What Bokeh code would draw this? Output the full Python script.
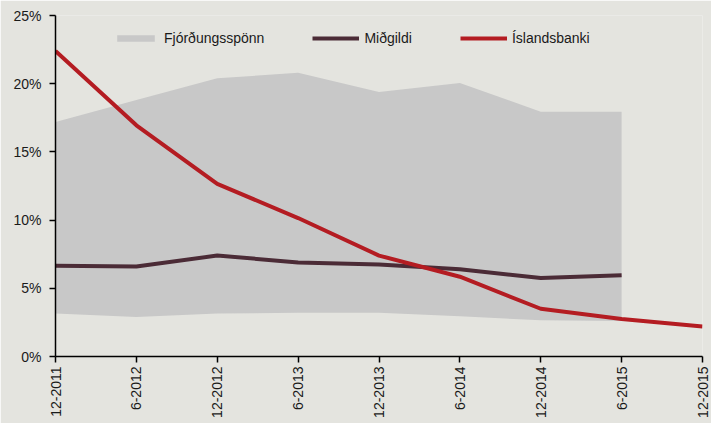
import math
from bokeh.plotting import figure
from bokeh.models import Range1d, FixedTicker, Legend, LegendItem
from bokeh.embed import file_html
from bokeh.resources import INLINE

# --- data -------------------------------------------------------------
periods = ["12-2011", "6-2012", "12-2012", "6-2013", "12-2013",
           "6-2014", "12-2014", "6-2015", "12-2015"]
islandsbanki = [22.4, 16.95, 12.65, 10.15, 7.4, 5.85, 3.5, 2.75, 2.2]
midgildi = [6.65, 6.6, 7.4, 6.9, 6.75, 6.4, 5.75, 5.95]
fjordungur_efri = [17.2, 18.8, 20.4, 20.8, 19.4, 20.05, 17.95, 17.95]
fjordungur_nedri = [3.15, 2.9, 3.15, 3.2, 3.2, 2.95, 2.65, 2.6]
y_ticks = [0, 5, 10, 15, 20, 25]
y_tick_labels = ["0%", "5%", "10%", "15%", "20%", "25%"]

# --- styles -----------------------------------------------------------
BG = "#E4E4DF"
BAND = "#C8C8C8"
MED = "#4B2B36"
RED = "#B41C22"
FONT = "Liberation Sans"

x_all = list(range(len(periods)))
x_band = x_all[:len(midgildi)]

p = figure(width=711, height=423, output_backend="svg", toolbar_location=None,
           x_range=Range1d(0, len(periods) - 1), y_range=Range1d(0, 25),
           min_border_left=55, min_border_right=9, min_border_top=15,
           min_border_bottom=67)
p.background_fill_color = BG
p.border_fill_color = BG
p.outline_line_color = None
p.xgrid.visible = False
p.ygrid.visible = False

band = p.varea(x=x_band, y1=fjordungur_nedri, y2=fjordungur_efri,
               fill_color=BAND)
med = p.line(x=x_band, y=midgildi, line_color=MED, line_width=4)
red = p.line(x=x_all, y=islandsbanki, line_color=RED, line_width=4)

# axes
p.xaxis.ticker = FixedTicker(ticks=x_all)
p.xaxis.major_label_overrides = {i: s for i, s in enumerate(periods)}
p.xaxis.major_label_orientation = math.pi / 2
p.yaxis.ticker = FixedTicker(ticks=y_ticks)
p.yaxis.major_label_overrides = {t: s for t, s in zip(y_ticks, y_tick_labels)}
for ax in (p.xaxis[0], p.yaxis[0]):
    ax.axis_line_color = "#000000"
    ax.axis_line_width = 1.5
    ax.major_tick_line_color = "#000000"
    ax.major_tick_line_width = 1.5
    ax.major_tick_out = 6
    ax.major_tick_in = 0
    ax.minor_tick_line_color = None
    ax.major_label_text_font = FONT
    ax.major_label_text_font_size = "14px"
    ax.major_label_text_color = "#1a1a1a"
p.xaxis.major_label_standoff = 4
p.yaxis.major_label_standoff = 8

legend = Legend(items=[
    LegendItem(label="Fjórðungsspönn", renderers=[band]),
    LegendItem(label="Miðgildi", renderers=[med]),
    LegendItem(label="Íslandsbanki", renderers=[red]),
], orientation="horizontal", location=(57, 310))
legend.background_fill_alpha = 0
legend.border_line_color = None
legend.padding = 0
legend.margin = 0
legend.spacing = 48
legend.glyph_width = 47
legend.glyph_height = 8
legend.label_standoff = 5
legend.label_text_font = FONT
legend.label_text_font_size = "14px"
legend.label_text_color = "#1a1a1a"
p.add_layout(legend, "center")

open("out.html", "w").write(file_html(p, INLINE))
